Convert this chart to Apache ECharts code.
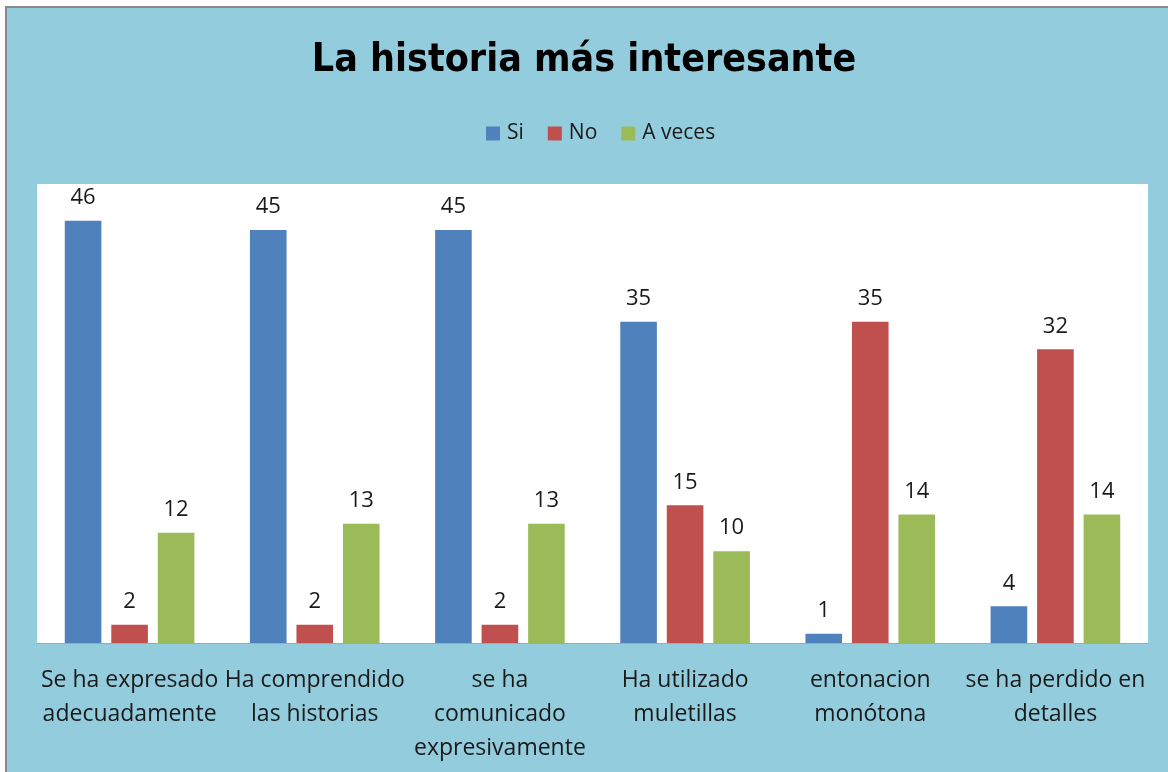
<!DOCTYPE html>
<html>
<head>
<meta charset="utf-8">
<script src="https://cdn.jsdelivr.net/npm/echarts@6/dist/echarts.min.js"></script>
<style>
  html, body { margin: 0; padding: 0; background: #ffffff; overflow: hidden; }
  #grafico { width: 1168px; height: 772px; }
</style>
</head>
<body>
<div id="grafico"></div>
<script>
// categorias (con saltos de linea como en el original)
const categorias = [
  'Se ha expresado\nadecuadamente',
  'Ha comprendido\nlas historias',
  'se ha\ncomunicado\nexpresivamente',
  'Ha utilizado\nmuletillas',
  'entonacion\nmonótona',
  'se ha perdido en\ndetalles'
];
const valoresSi = [46, 45, 45, 35, 1, 4];
const valoresNo = [2, 2, 2, 15, 35, 32];
const valoresAveces = [12, 13, 13, 10, 14, 14];

const fuente = "'Open Sans', 'DejaVu Sans', sans-serif";

const chart = echarts.init(document.getElementById('grafico'));

// etiqueta de datos encima de cada barra
const etiqueta = {
  show: true,
  position: 'top',
  distance: 12,
  color: '#1a1a1a',
  fontSize: 22,
  fontFamily: fuente
};

const option = {
  backgroundColor: '#ffffff',
  animation: false,
  graphic: [
    {
      type: 'rect',
      z: -10,
      shape: { x: 6, y: 7, width: 1200, height: 800 },
      style: { fill: '#93CDDD', stroke: '#8a8a8a', lineWidth: 2 }
    },
    {
      type: 'rect',
      z: -9,
      shape: { x: 37, y: 184, width: 1111, height: 459 },
      style: { fill: '#ffffff' }
    }
  ],
  title: {
    text: 'La historia más interesante',
    left: 'center',
    top: 36,
    textStyle: {
      fontFamily: "'Liberation Sans Narrow', 'DejaVu Sans Condensed', sans-serif",
      fontWeight: 'bold',
      fontSize: 39,
      color: '#000000'
    }
  },
  legend: {
    top: 118,
    left: 481,
    icon: 'rect',
    itemWidth: 14,
    itemHeight: 14,
    itemGap: 24,
    textStyle: { fontSize: 21, fontFamily: fuente, color: '#1a1a1a', padding: [0, 0, 0, 2] },
    data: ['Si', 'No', 'A veces']
  },
  grid: {
    left: 37,
    right: 20,
    top: 184,
    bottom: 129,
    containLabel: false
  },
  xAxis: {
    type: 'category',
    data: categorias,
    axisLine: { lineStyle: { color: '#a6a6a6', width: 1 } },
    axisTick: { show: false },
    axisLabel: {
      interval: 0,
      margin: 20,
      fontSize: 23,
      lineHeight: 34,
      fontFamily: fuente,
      color: '#1a1a1a'
    }
  },
  yAxis: {
    type: 'value',
    min: 0,
    max: 50,
    show: false,
    splitLine: { show: false }
  },
  series: [
    {
      name: 'Si',
      type: 'bar',
      data: valoresSi,
      barGap: '27%',
      barCategoryGap: '30%',
      itemStyle: { color: '#4F81BD' },
      label: etiqueta
    },
    {
      name: 'No',
      type: 'bar',
      data: valoresNo,
      itemStyle: { color: '#C0504D' },
      label: etiqueta
    },
    {
      name: 'A veces',
      type: 'bar',
      data: valoresAveces,
      itemStyle: { color: '#9BBB59' },
      label: etiqueta
    }
  ]
};

chart.setOption(option);
</script>
</body>
</html>
